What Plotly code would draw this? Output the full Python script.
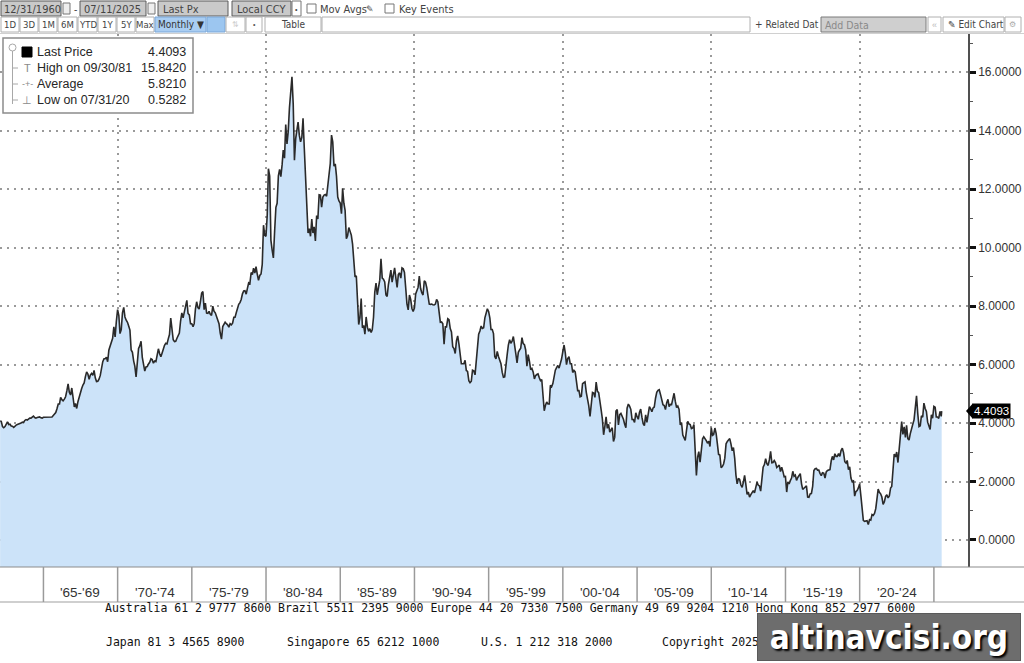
import pandas as pd
import plotly.graph_objects as go

# ---------------- data (month-end US 10Y yield) ----------------
yields_1960s = [  # 1962-01 .. 1969-12
    4.07, 4.06, 3.88, 3.84, 3.88, 3.96, 4.04, 3.95, 3.96, 3.90, 3.89, 3.85,
    3.90, 3.93, 3.95, 3.96, 3.98, 4.00, 4.03, 4.02, 4.09, 4.12, 4.10, 4.14,
    4.17, 4.17, 4.22, 4.24, 4.19, 4.17, 4.19, 4.19, 4.21, 4.18, 4.17, 4.20,
    4.20, 4.21, 4.21, 4.20, 4.21, 4.20, 4.21, 4.26, 4.31, 4.36, 4.49, 4.65,
    4.65, 4.88, 4.80, 4.76, 4.82, 4.90, 5.10, 5.34, 5.05, 4.96, 5.20, 4.77,
    4.55, 4.67, 4.50, 4.73, 4.91, 5.07, 5.18, 5.30, 5.37, 5.59, 5.75, 5.68,
    5.50, 5.64, 5.70, 5.63, 5.80, 5.55, 5.42, 5.43, 5.50, 5.63, 5.87, 6.10,
    6.20, 6.20, 6.25, 6.10, 6.50, 6.66, 6.73, 6.90, 7.29, 6.95, 7.47, 7.88,
]
yields_1970s = [
    7.68, 7.06, 7.20, 7.77, 7.96, 7.63, 7.52, 7.45, 7.32, 7.18, 6.50, 6.42,
    6.12, 5.95, 5.58, 6.18, 6.55, 6.64, 6.80, 6.25, 6.05, 5.78, 5.92, 5.93,
    6.02, 6.08, 6.20, 6.17, 6.05, 6.12, 6.10, 6.30, 6.54, 6.37, 6.27, 6.40,
    6.55, 6.66, 6.73, 6.71, 6.88, 7.03, 7.59, 7.20, 6.85, 6.79, 6.80, 6.90,
    7.00, 7.08, 7.50, 7.77, 7.60, 7.80, 8.10, 8.20, 7.75, 7.70, 7.40, 7.40,
    7.30, 7.40, 7.90, 8.15, 7.95, 7.90, 8.15, 8.45, 8.50, 7.88, 8.10, 7.76,
    7.75, 7.82, 7.72, 7.68, 8.00, 7.83, 7.77, 7.65, 7.53, 7.40, 7.08, 6.87,
    7.30, 7.38, 7.45, 7.40, 7.36, 7.28, 7.40, 7.36, 7.42, 7.62, 7.62, 7.78,
    7.95, 8.06, 8.12, 8.23, 8.42, 8.52, 8.53, 8.41, 8.61, 8.80, 8.77, 9.15,
    9.08, 9.30, 9.13, 9.35, 9.09, 8.88, 9.05, 9.10, 9.43, 10.77, 10.42, 10.39,
]
yields_1980s = [
    11.12, 12.70, 12.45, 10.26, 9.92, 9.65, 10.57, 11.38, 11.52, 12.46, 12.68, 12.43,
    12.84, 13.34, 13.06, 14.21, 13.55, 13.97, 14.79, 15.48, 15.842, 14.92, 12.99, 13.73,
    14.16, 14.30, 13.84, 13.62, 13.77, 14.43, 13.39, 12.49, 11.89, 10.50, 10.65, 10.39,
    10.98, 10.50, 10.71, 10.23, 11.10, 10.98, 11.81, 11.80, 11.39, 11.73, 11.80, 11.82,
    11.76, 12.13, 12.52, 12.88, 13.85, 13.62, 12.79, 12.87, 12.45, 11.73, 11.60, 11.53,
    11.16, 12.03, 11.52, 11.28, 10.31, 10.41, 10.69, 10.50, 10.43, 10.12, 9.54, 9.00,
    9.04, 7.98, 7.37, 7.61, 8.26, 7.26, 7.34, 7.04, 7.63, 7.28, 7.14, 7.23,
    7.10, 7.20, 7.63, 8.47, 8.79, 8.39, 8.72, 8.89, 9.62, 8.96, 8.92, 8.83,
    8.38, 8.33, 8.74, 9.02, 9.23, 8.82, 9.13, 9.31, 8.97, 8.64, 9.08, 9.14,
    8.96, 9.31, 9.28, 9.15, 8.62, 8.08, 7.87, 8.38, 8.23, 7.92, 7.82, 7.93,
]
yields_1990s = [
    8.42, 8.53, 8.64, 9.03, 8.61, 8.46, 8.38, 8.87, 8.82, 8.63, 8.25, 8.07,
    8.06, 8.07, 8.05, 8.04, 8.07, 8.23, 8.15, 7.85, 7.45, 7.46, 7.40, 6.70,
    7.29, 7.29, 7.57, 7.54, 7.23, 7.12, 6.61, 6.55, 6.38, 6.82, 6.98, 6.70,
    6.38, 6.03, 6.03, 6.03, 6.15, 5.80, 5.77, 5.45, 5.38, 5.43, 5.81, 5.79,
    5.65, 6.13, 6.74, 7.04, 7.15, 7.32, 7.24, 7.26, 7.60, 7.81, 7.91, 7.82,
    7.59, 7.20, 7.20, 7.06, 6.28, 6.20, 6.45, 6.28, 6.17, 6.03, 5.74, 5.57,
    5.58, 6.10, 6.33, 6.67, 6.85, 6.73, 6.80, 6.96, 6.72, 6.37, 6.06, 6.42,
    6.50, 6.56, 6.92, 6.72, 6.68, 6.50, 5.95, 6.34, 6.12, 5.83, 5.87, 5.75,
    5.51, 5.62, 5.66, 5.68, 5.55, 5.45, 5.49, 5.00, 4.42, 4.61, 4.72, 4.65,
    4.65, 5.29, 5.24, 5.35, 5.62, 5.81, 5.90, 5.97, 5.88, 6.02, 6.19, 6.44,
]
yields_2000s = [
    6.67, 6.41, 6.00, 6.21, 6.27, 6.03, 6.03, 5.73, 5.80, 5.75, 5.47, 5.11,
    5.11, 4.90, 4.92, 5.35, 5.38, 5.41, 5.05, 4.83, 4.59, 4.23, 4.75, 5.05,
    5.03, 4.88, 5.40, 5.09, 5.04, 4.80, 4.46, 4.14, 3.60, 3.89, 4.21, 3.82,
    3.96, 3.69, 3.80, 3.84, 3.37, 3.51, 4.41, 4.46, 3.94, 4.29, 4.33, 4.25,
    4.13, 3.97, 3.84, 4.51, 4.65, 4.58, 4.47, 4.12, 4.12, 4.02, 4.35, 4.22,
    4.13, 4.36, 4.48, 4.20, 3.98, 3.91, 4.28, 4.02, 4.32, 4.56, 4.49, 4.39,
    4.52, 4.55, 4.85, 5.05, 5.12, 5.14, 4.98, 4.73, 4.63, 4.60, 4.46, 4.70,
    4.81, 4.56, 4.64, 4.63, 4.89, 5.02, 4.74, 4.53, 4.58, 4.47, 3.94, 4.02,
    3.59, 3.51, 3.41, 3.73, 4.06, 3.97, 3.95, 3.81, 3.83, 3.95, 2.92, 2.21,
    2.84, 3.02, 2.66, 3.12, 3.46, 3.53, 3.48, 3.40, 3.31, 3.38, 3.20, 3.84,
]
yields_2010s = [
    3.58, 3.61, 3.83, 3.65, 3.29, 2.93, 2.91, 2.47, 2.51, 2.60, 2.80, 3.29,
    3.37, 3.42, 3.47, 3.29, 3.05, 3.16, 2.80, 2.22, 1.92, 2.11, 2.07, 1.88,
    1.80, 1.97, 2.21, 1.91, 1.56, 1.64, 1.47, 1.55, 1.63, 1.69, 1.61, 1.76,
    1.98, 1.88, 1.85, 1.67, 2.13, 2.49, 2.58, 2.78, 2.61, 2.55, 2.74, 3.03,
    2.64, 2.65, 2.72, 2.65, 2.48, 2.53, 2.56, 2.34, 2.49, 2.34, 2.16, 2.17,
    1.64, 1.99, 1.92, 2.03, 2.12, 2.35, 2.18, 2.22, 2.04, 2.14, 2.21, 2.27,
    1.92, 1.73, 1.77, 1.83, 1.85, 1.47, 1.46, 1.58, 1.59, 1.83, 2.38, 2.44,
    2.45, 2.39, 2.39, 2.28, 2.20, 2.30, 2.29, 2.12, 2.33, 2.38, 2.41, 2.41,
    2.71, 2.86, 2.74, 2.95, 2.86, 2.86, 2.96, 2.86, 3.06, 3.14, 2.99, 2.68,
    2.63, 2.72, 2.41, 2.50, 2.12, 2.00, 2.02, 1.50, 1.66, 1.69, 1.78, 1.92,
]
yields_2020s = [  # 2020-01 .. 2025-07 (last point 07/11/2025)
    1.51, 1.15, 0.67, 0.64, 0.65, 0.66, 0.5282, 0.70, 0.68, 0.87, 0.84, 0.91,
    1.07, 1.41, 1.74, 1.63, 1.58, 1.47, 1.22, 1.31, 1.49, 1.55, 1.44, 1.51,
    1.78, 1.83, 2.34, 2.94, 2.84, 3.01, 2.65, 3.19, 3.83, 4.05, 3.61, 3.87,
    3.51, 3.92, 3.47, 3.42, 3.64, 3.84, 3.96, 4.11, 4.57, 4.93, 4.33, 3.88,
    3.91, 4.25, 4.20, 4.68, 4.50, 4.40, 4.03, 3.90, 3.78, 4.28, 4.17, 4.57,
    4.54, 4.21, 4.21, 4.16, 4.40, 4.23, 4.4093,
]
first_month_end = "1962-01-31"
last_date = "2025-07-11"

summary_labels = ["Last Price", "High on 09/30/81", "Average", "Low on 07/31/20"]
summary_values = ["4.4093", "15.8420", "5.8210", "0.5282"]
summary_icons = ["■", "T", "-+-", "⊥"]

band_starts = [1965, 1970, 1975, 1980, 1985, 1990, 1995, 2000, 2005, 2010, 2015, 2020]
band_labels = ["'65-'69", "'70-'74", "'75-'79", "'80-'84", "'85-'89", "'90-'94",
               "'95-'99", "'00-'04", "'05-'09", "'10-'14", "'15-'19", "'20-'24"]
y_tick_values = [0, 2, 4, 6, 8, 10, 12, 14, 16]

footer_line1 = ("Australia 61 2 9777 8600 Brazil 5511 2395 9000 Europe 44 20 7330 7500 "
                "Germany 49 69 9204 1210 Hong Kong 852 2977 6000")
footer_line2 = ["Japan 81 3 4565 8900", "Singapore 65 6212 1000", "U.S. 1 212 318 2000",
                "Copyright 2025 Bloomberg Finance L.P."]

# ---------------- build series ----------------
values = (yields_1960s + yields_1970s + yields_1980s + yields_1990s
          + yields_2000s + yields_2010s + yields_2020s)
dates = list(pd.date_range(first_month_end, periods=len(values), freq="ME"))
dates[-1] = pd.Timestamp(last_date)

W, H = 1024, 663
ML, MR, MT, MB = 0, 56, 34, 96
PW, PH = W - ML - MR, H - MT - MB
Y_MIN, Y_MAX = -0.924, 17.31
X_RANGE = ["1962-01-28", "2027-04-20"]


def PX(x):
    return (x - ML) / PW


def PY(y):
    return (H - MB - y) / PH


FILL = "#cce3f9"
LINE = "#2a2a2a"
UI_FONT = "Liberation Sans, Arial, sans-serif"
NARROW = "Liberation Sans Narrow, DejaVu Sans Condensed, Liberation Sans, sans-serif"

fig = go.Figure()
fig.add_trace(go.Scatter(x=[dates[0], dates[-1]], y=[Y_MIN - 1, Y_MIN - 1], mode="lines",
                         line=dict(width=0), hoverinfo="skip", showlegend=False))
fig.add_trace(go.Scatter(x=dates, y=values, mode="lines", fill="tonexty", fillcolor=FILL,
                         line=dict(color=LINE, width=1.6), showlegend=False))

shapes = []
annos = []


def rect(x0, y0, x1, y1, fill="white", line="#a0a0a0", lw=1):
    shapes.append(dict(type="rect", xref="paper", yref="paper", x0=PX(x0), x1=PX(x1),
                       y0=PY(y1), y1=PY(y0), fillcolor=fill,
                       line=dict(color=line, width=lw), layer="above"))


def hline(x0, x1, y, color="#a0a0a0", lw=1):
    shapes.append(dict(type="line", xref="paper", yref="paper", x0=PX(x0), x1=PX(x1),
                       y0=PY(y), y1=PY(y), line=dict(color=color, width=lw), layer="above"))


def vline(x, y0, y1, color="#a0a0a0", lw=1):
    shapes.append(dict(type="line", xref="paper", yref="paper", x0=PX(x), x1=PX(x),
                       y0=PY(y0), y1=PY(y1), line=dict(color=color, width=lw), layer="above"))


def text(x, y, s, size=11, color="#333333", anchor="left", family=UI_FONT, **kw):
    annos.append(dict(xref="paper", yref="paper", x=PX(x), y=PY(y), text=s, showarrow=False,
                      xanchor=anchor, yanchor="middle", font=dict(size=size, color=color,
                                                                  family=family), **kw))


# ---------------- toolbar ----------------
rect(0, 0, 1024, 33, fill="white", line="white")
# row 1
rect(1, 1, 61, 16, fill="#c9c9c9", line="#5a5a5a")
text(2, 9, "12/31/1960", 11, "#444", family=NARROW)
rect(63, 3, 70, 14, fill="#eeeeee", line="#777")
text(75, 9, "-", 10, "#444", anchor="center")
rect(80, 1, 146, 16, fill="#c9c9c9", line="#5a5a5a")
text(82, 9, "07/11/2025", 11, "#444", family=NARROW)
rect(148, 3, 155, 14, fill="#eeeeee", line="#777")
rect(158, 1, 228, 16, fill="#c9c9c9", line="#5a5a5a")
text(161, 9, "Last Px", 11, "#444", family=NARROW)
rect(232, 1, 291, 16, fill="#c9c9c9", line="#5a5a5a")
text(235, 9, "Local CCY", 11, "#444", family=NARROW)
rect(292, 1, 301, 16, fill="white", line="#777")
text(296.5, 9, "•", 7, "#444", anchor="center")
rect(307, 4, 316, 13, fill="white", line="#777")
text(318, 9, "Mov Avgs", 11, "#444", family=NARROW)
text(370, 9, "✎", 9, "#444", anchor="center")
rect(385, 4, 394, 13, fill="white", line="#777")
text(397, 9, "Key Events", 11, "#444", family=NARROW)
# row 2
btns = [(1, 19, "1D"), (20, 38, "3D"), (39, 57, "1M"), (58, 77, "6M"), (78, 97, "YTD"),
        (98, 116, "1Y"), (117, 135, "5Y"), (136, 154, "Max")]
for x0, x1, lab in btns:
    rect(x0, 17, x1, 32, fill="white", line="#b0b0b0")
    text((x0 + x1) / 2, 25, lab, 9.5, "#444", anchor="center", family=NARROW)
rect(155, 17, 206, 32, fill="#a9cdf2", line="#7aa7d8")
text(180.5, 25, "Monthly ▼", 10, "#333", anchor="center", family=NARROW)
rect(207, 17, 225, 32, fill="#9cc6f0", line="#7aa7d8")
rect(226, 17, 245, 32, fill="white", line="#b0b0b0")
text(235.5, 25, "⇅", 8, "#cfcfcf", anchor="center")
rect(246, 17, 262, 32, fill="white", line="#b0b0b0")
text(254, 25, "•", 7, "#555", anchor="center")
rect(265, 17, 321, 32, fill="white", line="#b0b0b0")
text(293, 25, "Table", 10, "#444", anchor="center", family=NARROW)
rect(322, 17, 750, 32, fill="white", line="#b0b0b0")
text(753, 25, "+ Related Dat", 10, "#444", family=NARROW)
rect(821, 17, 926, 32, fill="#cfcfcf", line="#7a7a7a")
text(823, 25, "Add Data", 10.5, "#8a8a8a", family=NARROW)
rect(928, 17, 941, 32, fill="white", line="#b0b0b0")
text(934.5, 25, "«", 9, "#bbbbbb", anchor="center")
rect(943, 17, 1004, 32, fill="white", line="#b0b0b0")
text(946, 25, "✎ Edit Chart", 10, "#444", family=NARROW)
rect(1005, 17, 1021, 32, fill="white", line="#b0b0b0")
text(1013, 25, "⚙", 8, "#aaaaaa", anchor="center")
hline(0, 1024, 33.5, "#d0d0d0", 1)

# ---------------- summary box ----------------
rect(3, 38, 193, 113, fill="white", line="#8c8c8c", lw=1.5)
vline(12.5, 49, 104, "#a8a8a8", 1)
shapes.append(dict(type="circle", xref="paper", yref="paper", x0=PX(9), x1=PX(16),
                   y0=PY(51), y1=PY(44), line=dict(color="#a8a8a8", width=1),
                   fillcolor="white", layer="above"))
rows_y = [52, 68, 84, 100]
for i, (lab, val, ic) in enumerate(zip(summary_labels, summary_values, summary_icons)):
    yy = rows_y[i]
    if i > 0:
        hline(12.5, 18, yy, "#a8a8a8", 1)
    if i == 0:
        rect(22, yy - 5, 32, yy + 5, fill="black", line="black")
    else:
        text(27, yy, ic, 11 if i != 2 else 9, "#8a8a8a", anchor="center")
    text(35, yy, lab, 12.5, "#262626")
    text(188, yy, val, 12.5, "#262626", anchor="right")

# ---------------- period band under the plot ----------------
band_top, band_bot = 567, 602
hline(0, 1024, band_bot, "#a0a0a0", 1.2)
hline(0, 1024, band_top, "#8c8c8c", 1.2)
for y0, lab in zip(band_starts, band_labels):
    shapes.append(dict(type="line", xref="x", yref="paper", x0=f"{y0}-01-01",
                       x1=f"{y0}-01-01", y0=PY(band_bot), y1=PY(band_top),
                       line=dict(color="#9a9a9a", width=1.5), layer="above"))
    annos.append(dict(xref="x", yref="paper", x=f"{y0 + 2}-07-02", y=PY(592), text=lab,
                      showarrow=False, xanchor="center", yanchor="middle",
                      font=dict(size=13.5, color="#333", family=UI_FONT)))
shapes.append(dict(type="line", xref="x", yref="paper", x0=f"{band_starts[-1] + 5}-01-01",
                   x1=f"{band_starts[-1] + 5}-01-01", y0=PY(band_bot), y1=PY(band_top),
                   line=dict(color="#9a9a9a", width=1.5), layer="above"))

# ---------------- last price tag ----------------
last_val = values[-1]
annos.append(dict(xref="paper", yref="y", x=PX(972), y=last_val, text=f"{last_val:.4f}",
                  showarrow=False, xanchor="left", yanchor="middle", bgcolor="black",
                  borderpad=1, font=dict(size=11.5, color="white", family=UI_FONT)))
shapes.append(dict(type="path", xref="paper", yref="y", layer="above",
                   path=f"M {PX(966)} {last_val} L {PX(973)} {last_val + 0.27} "
                        f"L {PX(973)} {last_val - 0.27} Z",
                   fillcolor="black", line=dict(color="black", width=0)))

# ---------------- footer ----------------
MONO = "DejaVu Sans Mono, monospace"
text(103, 608, footer_line1, 11.5, "#111", family=MONO)
for xx, s in zip([104, 285, 479, 660], footer_line2):
    text(xx, 642, s, 11.5, "#111", family=MONO)

# watermark (opaque label box covering part of the footer, as in the reference)
annos.append(dict(xref="paper", yref="paper", x=PX(889), y=PY(637),
                  text="<b>altinavcisi.org</b>", showarrow=False, xanchor="center",
                  yanchor="middle", bgcolor="#6d6d6d", bordercolor="#5a5a5a", borderwidth=1,
                  borderpad=0, width=262, height=46,
                  font=dict(size=33, color="white",
                            family="DejaVu Sans Condensed, DejaVu Sans, sans-serif",
                            shadow="2px 2px 2px #000")))

fig.update_layout(
    width=W, height=H, margin=dict(l=ML, r=MR, t=MT, b=MB, pad=0),
    paper_bgcolor="white", plot_bgcolor="white", showlegend=False,
    shapes=shapes, annotations=annos,
    xaxis=dict(type="date", range=X_RANGE, showgrid=True, gridcolor="#9a9a9a",
               gridwidth=1.5, griddash="2px,5px", dtick="M120", tick0="1970-01-01",
               showticklabels=False, ticks="", zeroline=False, showline=False,
               fixedrange=True),
    yaxis=dict(side="right", range=[Y_MIN, Y_MAX], tickvals=y_tick_values,
               ticktext=[f"{v:.4f}" for v in y_tick_values], showgrid=True,
               gridcolor="#9a9a9a", gridwidth=1.5, griddash="2px,5px", zeroline=False,
               showline=True, linecolor="#505050", linewidth=1.5, ticks="outside",
               ticklen=6, tickwidth=2.5, tickcolor="#111",
               minor=dict(ticks="outside", ticklen=3, tickwidth=1, tickcolor="#555",
                          dtick=1, tick0=0, showgrid=False),
               tickfont=dict(size=12, color="#333", family=UI_FONT), fixedrange=True),
)

fig.write_html("out.html")
